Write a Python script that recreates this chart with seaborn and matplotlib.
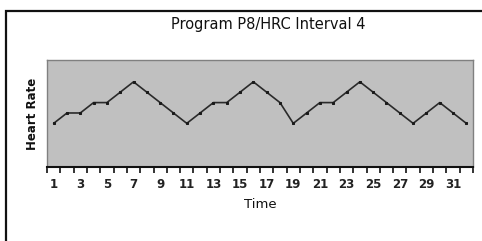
import matplotlib
matplotlib.use("Agg")
import matplotlib.pyplot as plt
import seaborn as sns
import pandas as pd
from matplotlib.patches import Rectangle

time = list(range(1, 33))
heart_rate = [120, 125, 125, 130, 130, 135, 140, 135, 130, 125, 120,
              125, 130, 130, 135, 140, 135, 130, 120, 125, 130, 130,
              135, 140, 135, 130, 125, 120, 125, 130, 125, 120]
tick_labels = [str(t) for t in range(1, 32, 2)]
title = "Program P8/HRC Interval 4"

df = pd.DataFrame({"Time": time, "Heart Rate": heart_rate})

sns.set_style("white")
plt.rcParams['font.family'] = ['DejaVu Sans']

fig = plt.figure(figsize=(4.82, 2.41), dpi=100)
fig.patch.set_facecolor("white")
# outer frame (cut off at right and bottom)
fig.patches.append(Rectangle((5.5 / 482, -0.05), 1.2, 1 - 10.5 / 241 + 0.05,
                             transform=fig.transFigure, fill=False,
                             edgecolor="#111111", linewidth=1.6))

ax = fig.add_axes([47 / 482, 1 - 167 / 241, (473 - 47) / 482, (167 - 60) / 241])
ax.set_facecolor("#c0c0c0")
sns.lineplot(data=df, x="Time", y="Heart Rate", ax=ax, color="#2a2a2a",
             linewidth=1.2, marker="s", markersize=2,
             markeredgecolor="#1a1a1a", markerfacecolor="#1a1a1a")

ax.set_xlim(0.5, 32.5)
ax.set_ylim(99, 150.5)
ax.set_xticks(range(1, 32, 2))
ax.set_xticklabels(tick_labels, fontsize=8.5, fontweight="bold", color="#222222")
ax.set_xticks([x + 0.5 for x in range(0, 33)], minor=True)
ax.tick_params(axis="x", which="major", length=0, pad=8)
ax.tick_params(axis="x", which="minor", length=4, width=1.2, color="#111111",
               direction="out", bottom=True)
ax.set_yticks([])
for s in ["left", "top", "right"]:
    ax.spines[s].set_color("#808080")
    ax.spines[s].set_linewidth(1.0)
ax.spines["bottom"].set_color("#111111")
ax.spines["bottom"].set_linewidth(1.5)

ax.set_xlabel("Time", fontsize=9.5, color="#111111", labelpad=5)
ax.set_ylabel("Heart Rate", fontsize=8.5, fontweight="bold", color="#111111", labelpad=6)
fig.text(268 / 482, 1 - 25 / 241, title, ha="center", va="center", fontsize=10.5, color="#111111")

fig.savefig("out.png", dpi=100)
